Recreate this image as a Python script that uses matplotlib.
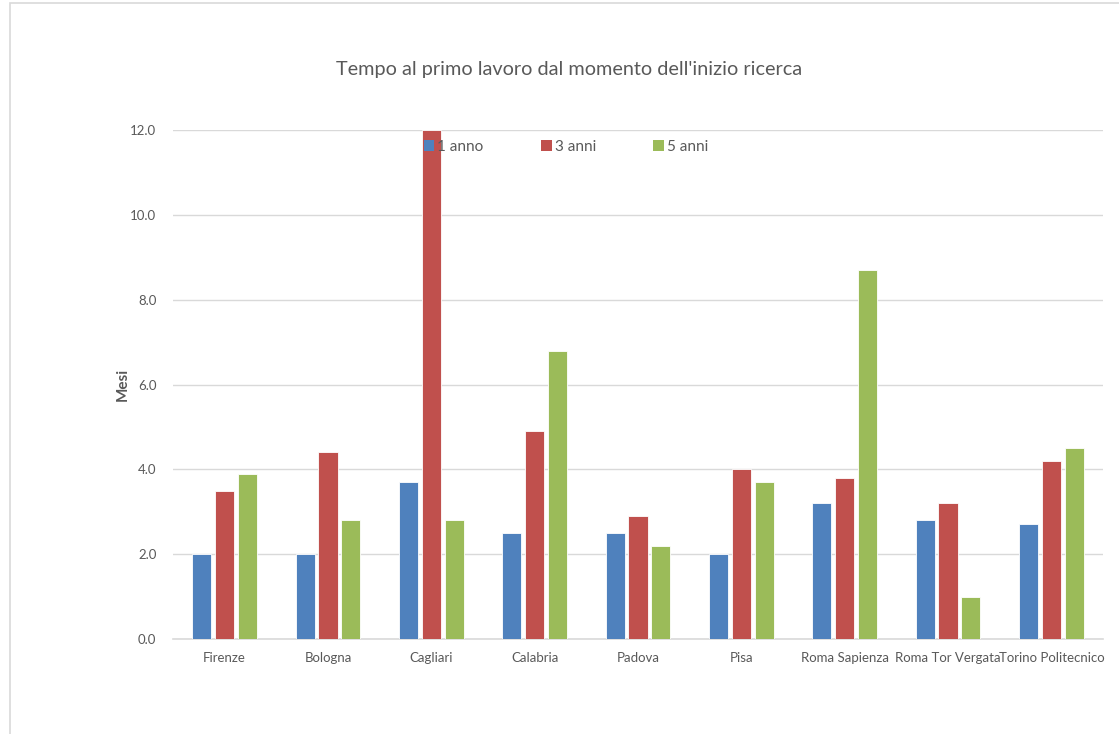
import numpy as np
import matplotlib
matplotlib.use("Agg")
import matplotlib.pyplot as plt
from matplotlib.patches import Rectangle, Patch

# data
atenei = ["Firenze", "Bologna", "Cagliari", "Calabria", "Padova", "Pisa",
          "Roma Sapienza", "Roma Tor Vergata", "Torino Politecnico"]
anno1 = [2.0, 2.0, 3.7, 2.5, 2.5, 2.0, 3.2, 2.8, 2.7]
anni3 = [3.5, 4.4, 12.0, 4.9, 2.9, 4.0, 3.8, 3.2, 4.2]
anni5 = [3.9, 2.8, 2.8, 6.8, 2.2, 3.7, 8.7, 1.0, 4.5]
serie = ["1 anno", "3 anni", "5 anni"]
colori = ["#4F81BD", "#C0504D", "#9BBB59"]
yticks = [0, 2, 4, 6, 8, 10, 12]

plt.rcParams["font.family"] = ["Lato", "DejaVu Sans"]
grigio = "#595959"

fig = plt.figure(figsize=(11.19, 7.34), dpi=100)
# light frame around the chart area
fig.patches.append(Rectangle((10 / 1119, -0.01), 1.02, 1 - 3 / 734 + 0.01,
                             transform=fig.transFigure, fill=False,
                             edgecolor="#d9d9d9", linewidth=1.2))

ax = fig.add_axes([173 / 1119, 1 - 639 / 734, 930 / 1119, 509 / 734])
x = np.arange(len(atenei))
w = 0.185
step = 0.222
for i, (vals, c) in enumerate(zip([anno1, anni3, anni5], colori)):
    ax.bar(x + (i - 1) * step, vals, width=w, color=c,
           edgecolor="white", linewidth=0.6, zorder=3)

ax.set_xlim(-0.5, len(atenei) - 0.5)
ax.set_ylim(0, 12)
ax.set_yticks(yticks)
ax.set_yticklabels([f"{v:.1f}" for v in yticks])
ax.set_xticks(x)
ax.set_xticklabels(atenei)
ax.tick_params(axis="both", length=0, colors=grigio, labelsize=9.5)
ax.tick_params(axis="y", pad=12)
ax.tick_params(axis="x", pad=9)
ax.grid(axis="y", color="#d9d9d9", linewidth=1, zorder=0)
for s in ["top", "right", "left"]:
    ax.spines[s].set_visible(False)
ax.spines["bottom"].set_color("#d9d9d9")
ax.spines["bottom"].set_linewidth(1.2)

ax.set_ylabel("Mesi", fontsize=11, fontweight="bold", color=grigio, labelpad=0)
fig.text(569 / 1119, 1 - 69 / 734, "Tempo al primo lavoro dal momento dell'inizio ricerca",
         ha="center", va="center", fontsize=14.3, color=grigio)

handles = [Patch(facecolor=c, edgecolor="none", label=s) for s, c in zip(serie, colori)]
fig.legend(handles=handles, loc="center", bbox_to_anchor=(566 / 1119, 1 - 147 / 734), ncol=3,
           frameon=False, handlelength=0.7, handleheight=0.7, handletextpad=0.2,
           columnspacing=3.75, fontsize=11, labelcolor=grigio)

plt.savefig("out.png", dpi=100)
